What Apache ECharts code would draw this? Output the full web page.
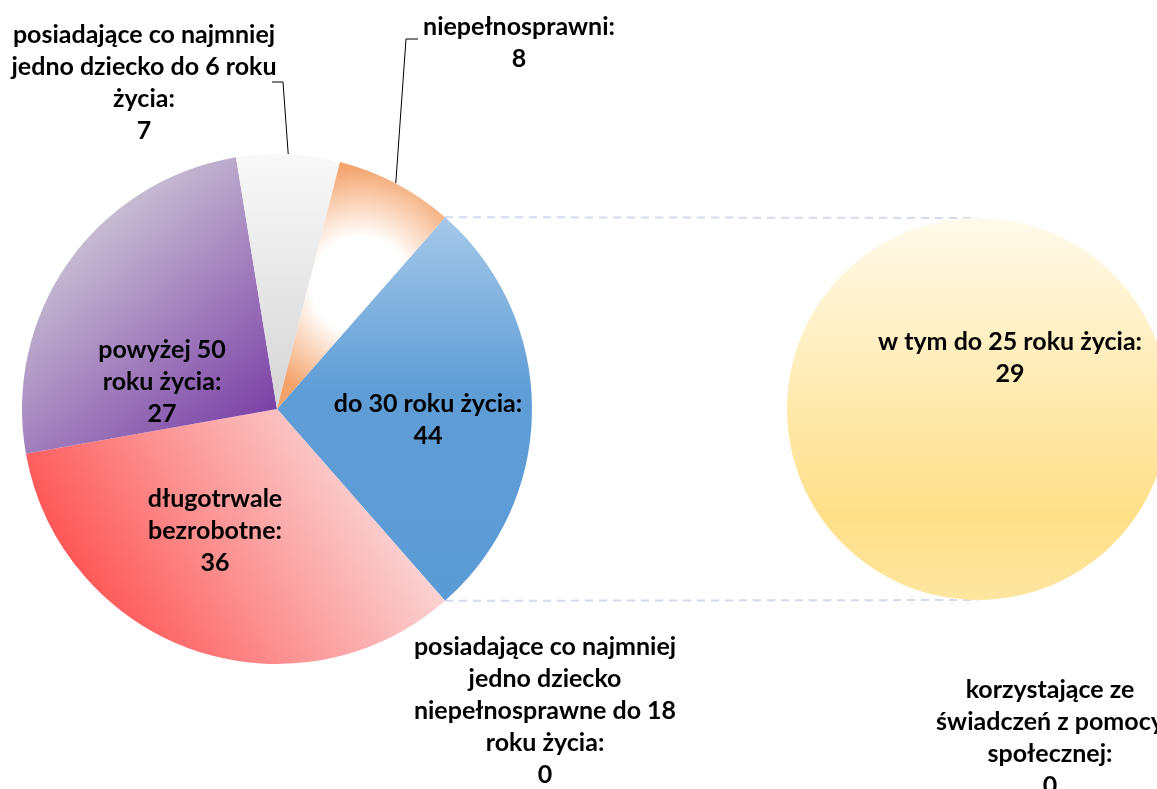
<!DOCTYPE html>
<html>
<head>
<meta charset="utf-8">
<script src="https://cdn.jsdelivr.net/npm/echarts@6/dist/echarts.min.js"></script>
<style>
  html, body { margin: 0; padding: 0; background: #fff; }
  #chart { width: 1157px; height: 789px; }
</style>
</head>
<body>
<div id="chart"></div>
<script>
// ---- data ----
const mainNames = [
  'do 30 roku życia',
  'posiadające co najmniej\njedno dziecko\nniepełnosprawne do 18\nroku życia',
  'długotrwale\nbezrobotne',
  'powyżej 50\nroku życia',
  'posiadające co najmniej\njedno dziecko do 6 roku\nżycia',
  'niepełnosprawni'
];
const mainValues = [44, 0, 36, 27, 7, 8];
const secondNames = [
  'w tym do 25 roku życia',
  'korzystające ze\nświadczeń z pomocy\nspołecznej'
];
const secondValues = [29, 0];

// ---- geometry ----
const C1 = [277, 409], R1 = 255;
const C2 = [978, 409], R2 = 191;

const otherSum = secondValues.reduce((a, b) => a + b, 0);
// slice sizes of main pie: index 0 is the "other" slice that is split into the secondary pie
const mainSizes = mainValues.map((v, i) => i === 0 ? otherSum : v);
const total = mainSizes.reduce((a, b) => a + b, 0);
const halfDeg = 180 * otherSum / total;
const halfRad = halfDeg * Math.PI / 180;

const LG = (x, y, x2, y2, stops) => new echarts.graphic.LinearGradient(x, y, x2, y2,
  stops.map(s => ({ offset: s[0], color: s[1] })));
const RG = (x, y, r, stops) => new echarts.graphic.RadialGradient(x, y, r,
  stops.map(s => ({ offset: s[0], color: s[1] })));

const mainColors = [
  LG(0, 0, 0, 1, [[0, '#a6c8e9'], [0.45, '#5f9dd6'], [1, '#5b9bd5']]),
  '#cccccc',
  LG(0, 1, 1, 0, [[0, '#ff3030'], [0.45, '#fc8f8f'], [0.8, '#fad3d3'], [1, '#fbeaea']]),
  LG(0, 0, 1, 1, [[0, '#dddadf'], [0.22, '#cbc3d5'], [1, '#7030a0']]),
  LG(0, 0, 0, 1, [[0, '#f9f9f9'], [1, '#d5d5d5']]),
  RG(0.5, 0.5, 0.9, [[0, '#ffffff'], [0.32, '#ffffff'], [0.8, '#f3a26a'], [1, '#f3a26a']])
];
const secondColors = [
  LG(0, 0, 0, 1, [[0, '#fffaeb'], [0.78, '#ffdf88'], [1, '#fee6a0']]),
  '#cccccc'
];

const labelPos = [
  [[428, 420], [545, 711], [215, 531], [162, 382], [144, 83], [519, 43]],
  [[1010, 358], [1050, 738]]
];
const leaderMid = { 4: [[283, 82], [272, 82]], 5: [[406, 39], [418, 39]] };

const labelStyle = {
  fontFamily: 'Lato',
  fontWeight: 'bold',
  fontSize: 25,
  lineHeight: 32,
  color: '#000',
  align: 'center'
};

function makeLayout(seriesIndex) {
  return function (params) {
    const pos = labelPos[seriesIndex][params.dataIndex];
    const res = { x: pos[0], y: pos[1], align: 'center', verticalAlign: 'middle' };
    if (seriesIndex === 0 && leaderMid[params.dataIndex] && params.labelLinePoints) {
      const p0 = params.labelLinePoints[0];
      res.labelLinePoints = [p0].concat(leaderMid[params.dataIndex]);
    }
    return res;
  };
}

const chart = echarts.init(document.getElementById('chart'), null, { renderer: 'canvas' });

const option = {
  animation: false,
  backgroundColor: '#ffffff',
  series: [
    {
      type: 'pie',
      center: C1,
      radius: R1,
      startAngle: halfDeg,
      clockwise: true,
      avoidLabelOverlap: false,
      itemStyle: { borderWidth: 0 },
      label: Object.assign({ show: true, position: 'outside' }, labelStyle, {
        formatter: p => mainNames[p.dataIndex] + ':\n' + mainValues[p.dataIndex]
      }),
      labelLine: { show: false, lineStyle: { color: '#000', width: 1 } },
      labelLayout: makeLayout(0),
      emphasis: { disabled: true },
      data: mainSizes.map((v, i) => ({
        value: v,
        name: mainNames[i],
        itemStyle: { color: mainColors[i] },
        labelLine: { show: !!leaderMid[i], lineStyle: { color: '#000', width: 1 } }
      }))
    },
    {
      type: 'pie',
      center: C2,
      radius: R2,
      startAngle: 90,
      avoidLabelOverlap: false,
      itemStyle: { borderWidth: 0 },
      label: Object.assign({ show: true, position: 'outside' }, labelStyle, {
        formatter: p => secondNames[p.dataIndex] + ':\n' + secondValues[p.dataIndex]
      }),
      labelLine: { show: false },
      labelLayout: makeLayout(1),
      emphasis: { disabled: true },
      data: secondValues.map((v, i) => ({
        value: v,
        name: secondNames[i],
        itemStyle: { color: secondColors[i] }
      }))
    }
  ],
  graphic: [
    {
      type: 'line',
      silent: true,
      shape: {
        x1: C1[0] + R1 * Math.cos(halfRad), y1: C1[1] - R1 * Math.sin(halfRad),
        x2: C2[0], y2: C2[1] - R2
      },
      style: { stroke: '#d3daf0', lineWidth: 2, lineDash: [8, 6] },
      z: -1
    },
    {
      type: 'line',
      silent: true,
      shape: {
        x1: C1[0] + R1 * Math.cos(halfRad), y1: C1[1] + R1 * Math.sin(halfRad),
        x2: C2[0], y2: C2[1] + R2
      },
      style: { stroke: '#d3daf0', lineWidth: 2, lineDash: [8, 6] },
      z: -1
    }
  ]
};

chart.setOption(option);
</script>
</body>
</html>
